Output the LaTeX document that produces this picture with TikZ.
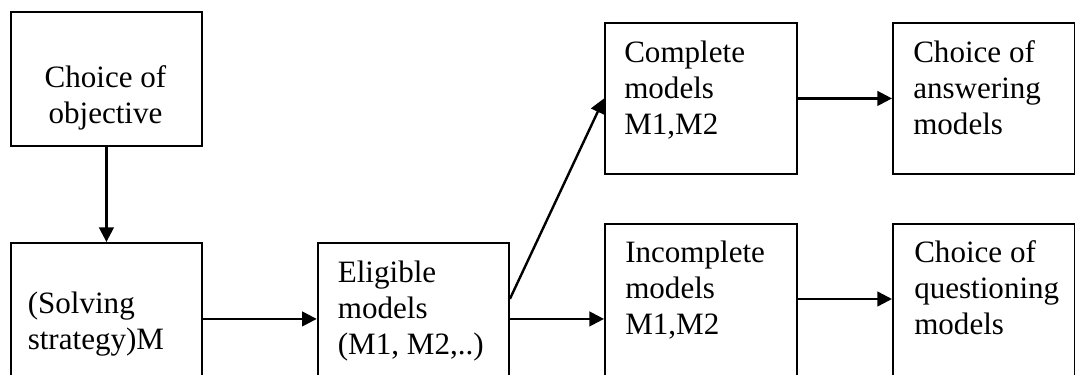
\documentclass[tikz,border=0pt]{standalone}
\usepackage{fontspec}
\setmainfont{Liberation Serif}
\usetikzlibrary{arrows.meta,calc}
\begin{document}
\begin{tikzpicture}[x=0.75pt,y=-0.75pt,
  box/.style={draw=black,line width=1.4pt,inner sep=0pt,anchor=north west},
  txt/.style={inner sep=0pt,font=\fontsize{23.3pt}{27pt}\selectfont},
  arr/.style={line width=1.8pt,-{Triangle[length=11pt,width=11pt]}}]
\clip (0,0) rectangle (1075,375);
% boxes
\node[box,minimum width=143.25pt,minimum height=100.5pt] (a) at (10,11) {};
\node[box,minimum width=143.25pt,minimum height=114pt] (b) at (10,242) {};
\node[box,minimum width=143.5pt,minimum height=114pt] (c) at (316.7,242) {};
\node[box,minimum width=144pt,minimum height=113.25pt] (d) at (604,22) {};
\node[box,minimum width=144pt,minimum height=150pt] (e) at (604,223) {};
\node[box,minimum width=136.5pt,minimum height=113.25pt] (f) at (892,22) {};
\node[box,minimum width=136.5pt,minimum height=150pt] (g) at (892,223) {};
% texts
\node[txt,anchor=north,align=center] (ta) at (105.5,61.8) {\strut Choice of\\objective};
\node[txt,anchor=north west,align=left] (tb) at (27.5,287.8) {\strut (Solving\\strategy)M};
\node[txt,anchor=north west,align=left] (tc) at (337.6,256.8) {\strut Eligible\\models\\(M1, M2,..)};
\node[txt,anchor=north west,align=left] (td) at (624,36.8) {\strut Complete\\models\\M1,M2};
\node[txt,anchor=north west,align=left] (te) at (625,236.8) {\strut Incomplete\\models\\M1,M2};
\node[txt,anchor=north west,align=left] (tf) at (913,36.8) {\strut Choice of\\answering\\models};
\node[txt,anchor=north west,align=left] (tg) at (914,236.8) {\strut Choice of\\questioning\\models};
% connectors
\draw[arr] (a.south) -- (b.north);
\draw[arr] (b.east) -- (c.west);
\draw[arr] ($(c.east)+(0,-20)$) -- (d.west);
\draw[arr] (c.east) -- (e.west |- c.east);
\draw[arr] (d.east) -- (f.west);
\draw[arr] ($(e.north east)+(0,76)$) -- ($(g.north west)+(0,76)$);
\end{tikzpicture}
\end{document}
